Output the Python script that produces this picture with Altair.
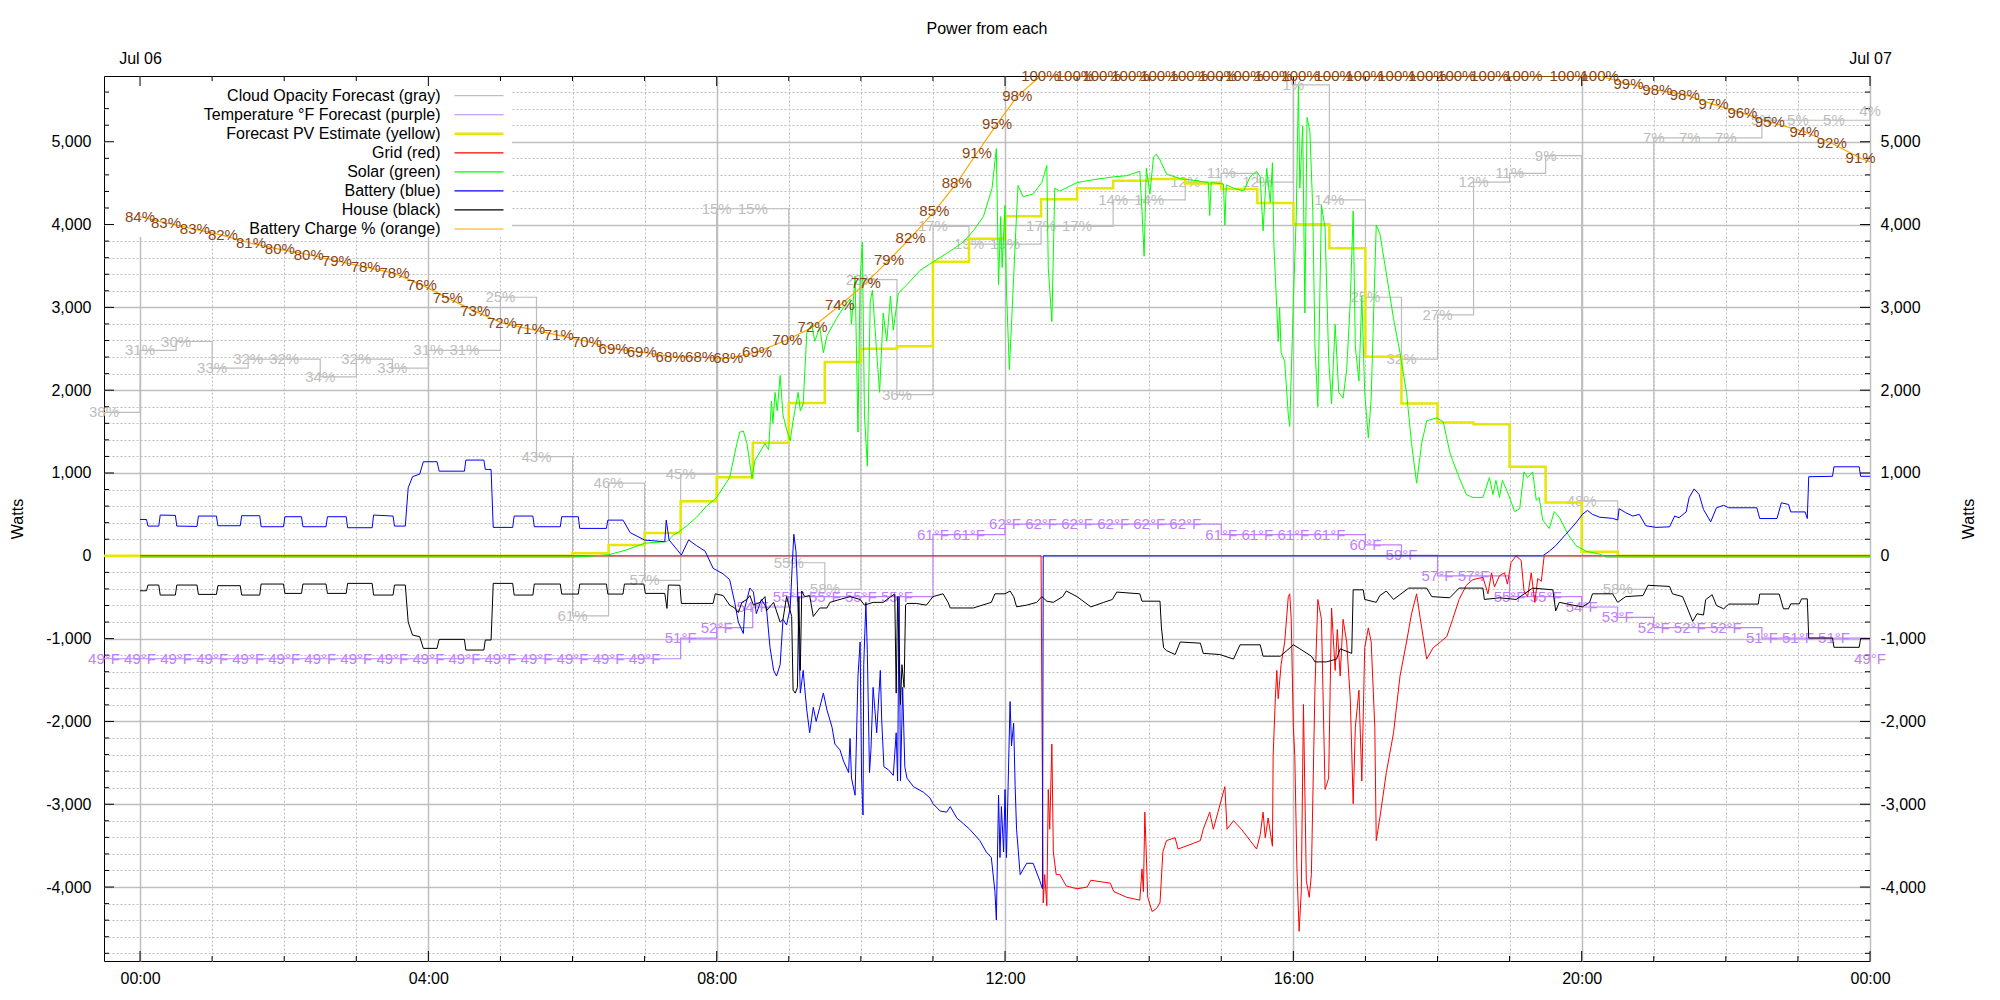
import altair as alt
import pandas as pd

FONT = "Liberation Sans"
PLOT_W, PLOT_H = 1766, 885
X_DOMAIN = [-0.5, 24.0]
WATT_DOMAIN = [-4893, 5794]
TEMP_DOMAIN = [19.8, 105.3]

GRAY = "#bdbdbd"
PURPLE = "#c080ff"
YELLOW = "#e6e600"
RED = "#ff0000"
GREEN = "#00ff00"
BLUE = "#0000ff"
BLACK = "#000000"
ORANGE = "#ffa500"
BROWN = "#8b4513"
GRIDC = "#bebebe"

# ---------------- data (hours from 00:00 Jul 06) ----------------
forecast_hours = [h / 2 for h in range(-1, 49)]  # 23:30 .. 24:00, every 30 min

cloud_pct = [38, 31, 30, 33, 32, 32, 34, 32, 33, 31, 31, 25, 43, 61, 46, 57, 45, 15, 15, 55,
             58, 23, 36, 17, 19, 19, 17, 17, 14, 14, 12, 11, 12, 1, 14, 25, 32, 27, 12, 11,
             9, 48, 58, 7, 7, 7, 5, 5, 5, 4]

temp_f = [49, 49, 49, 49, 49, 49, 49, 49, 49, 49, 49, 49, 49, 49, 49, 49,
          51, 52, 54, 55, 55, 55, 55, 61, 61, 62, 62, 62, 62, 62, 62, 61, 61, 61, 61,
          60, 59, 57, 57, 55, 55, 54, 53, 52, 52, 52, 51, 51, 51, 49]

pv_forecast = [0, 0, 0, 0, 0, 0, 0, 0, 0, 0, 0, 0, 0, 30, 130, 275, 660, 950, 1365, 1845,
               2340, 2500, 2532, 3550, 3830, 4100, 4305, 4440, 4530, 4550, 4495, 4430, 4260, 4005, 3715,
               2405, 1840, 1610, 1590, 1075, 645, 50, 0, 0, 0, 0, 0, 0, 0, 0]

grid_power = [
    (0.00, 0), (12.50, 0), (12.51, -1589), (12.53, -4192), (12.55, -3850), (12.58, -4226), (12.60, -2822),
    (12.62, -3302), (12.65, -2274), (12.67, -3576), (12.71, -3850), (12.76, -3850), (12.85, -3987),
    (13.00, -4021), (13.14, -4000), (13.19, -3918), (13.46, -3953), (13.51, -4055), (13.69, -4124),
    (13.87, -4158), (13.90, -3781), (13.92, -4055), (13.94, -3096), (13.98, -4124), (14.04, -4295),
    (14.10, -4260), (14.15, -4192), (14.19, -3576), (14.24, -3439), (14.36, -3404), (14.40, -3541),
    (14.61, -3473), (14.71, -3439), (14.75, -3302), (14.84, -3096), (14.89, -3302), (15.05, -2788),
    (15.08, -3302), (15.17, -3199), (15.28, -3302), (15.40, -3439), (15.49, -3541), (15.54, -3370),
    (15.58, -3096), (15.61, -3404), (15.65, -3165), (15.71, -3507), (15.72, -2411), (15.75, -1726),
    (15.77, -1384), (15.79, -1726), (15.83, -1315), (15.88, -1041), (15.93, -493), (15.95, -459),
    (15.97, -754), (16.00, -2069), (16.02, -2411), (16.05, -3781), (16.08, -4535), (16.11, -4055),
    (16.14, -1795), (16.18, -3918), (16.22, -4124), (16.25, -3850), (16.30, -1589), (16.34, -527),
    (16.39, -767), (16.44, -2822), (16.49, -2685), (16.53, -630), (16.58, -1384), (16.61, -890),
    (16.65, -1452), (16.69, -767), (16.74, -1041), (16.79, -1726), (16.83, -2993), (16.86, -2069),
    (16.91, -1623), (16.95, -2719), (16.99, -1110), (17.04, -870), (17.08, -1041), (17.13, -2069),
    (17.15, -3439), (17.20, -3165), (17.29, -2617), (17.39, -2137), (17.48, -1452), (17.57, -1041),
    (17.64, -699), (17.71, -459), (17.76, -754), (17.85, -1247), (17.94, -1110), (18.04, -1041),
    (18.13, -973), (18.21, -767), (18.30, -527), (18.40, -356), (18.49, -288), (18.63, -260),
    (18.70, -459), (18.75, -205), (18.79, -377), (18.86, -240), (18.93, -205), (18.97, -342),
    (19.02, -82), (19.09, 0), (19.16, -55), (19.20, -425), (19.25, -493), (19.30, -205), (19.35, -562),
    (19.39, -274), (19.44, -308), (19.48, 0), (24.00, 0)]

solar_power = [
    (0.00, -15), (6.00, -15), (6.30, 0), (6.50, 12), (6.75, 72), (7.00, 152), (7.31, 172), (7.40, 250),
    (7.49, 300), (7.60, 373), (7.72, 466), (7.86, 600), (8.00, 705), (8.18, 945), (8.28, 1356),
    (8.32, 1493), (8.37, 1507), (8.42, 1356), (8.49, 932), (8.53, 1150), (8.60, 1253), (8.67, 1356),
    (8.72, 1280), (8.76, 1870), (8.78, 1600), (8.81, 1973), (8.84, 1750), (8.88, 2178), (8.92, 1699),
    (8.97, 1527), (9.02, 1390), (9.06, 1630), (9.13, 1973), (9.16, 1750), (9.20, 1836), (9.25, 2692),
    (9.32, 2795), (9.36, 2589), (9.43, 2760), (9.48, 2452), (9.53, 2658), (9.66, 2863), (9.76, 3000),
    (9.85, 3103), (9.87, 2795), (9.92, 3377), (9.96, 1493), (9.99, 3343), (10.02, 3788), (10.05, 1699),
    (10.09, 1082), (10.13, 3069), (10.16, 3206), (10.22, 2452), (10.26, 1973), (10.31, 2932),
    (10.36, 2589), (10.41, 3137), (10.45, 2726), (10.52, 3172), (10.64, 3274), (10.82, 3446),
    (11.00, 3548), (11.19, 3651), (11.42, 3788), (11.56, 3925), (11.70, 4096), (11.82, 4439),
    (11.88, 4918), (11.91, 3274), (11.94, 4096), (11.96, 3480), (12.00, 4233), (12.02, 3206),
    (12.06, 2247), (12.09, 2795), (12.14, 3754), (12.18, 4473), (12.25, 4336), (12.39, 4370),
    (12.51, 4507), (12.58, 4713), (12.60, 3480), (12.65, 2829), (12.69, 4439), (12.76, 4405),
    (13.00, 4507), (13.23, 4542), (13.50, 4576), (13.69, 4590), (13.87, 4644), (13.90, 4165),
    (13.93, 3617), (13.96, 4679), (14.01, 4370), (14.06, 4816), (14.10, 4850), (14.15, 4781),
    (14.24, 4610), (14.43, 4555), (14.61, 4535), (14.82, 4507), (14.84, 4110), (14.86, 4507),
    (15.03, 4490), (15.05, 3994), (15.07, 4480), (15.17, 4439), (15.31, 4405), (15.40, 4576),
    (15.49, 4644), (15.54, 4576), (15.58, 3925), (15.63, 4679), (15.68, 4268), (15.71, 4747),
    (15.73, 3754), (15.77, 3000), (15.79, 2589), (15.81, 3000), (15.83, 2452), (15.88, 2350),
    (15.93, 1699), (15.95, 1562), (16.00, 3069), (16.04, 4096), (16.07, 5672), (16.09, 4439),
    (16.13, 5192), (16.16, 2932), (16.19, 5295), (16.23, 5124), (16.27, 4165), (16.30, 2521),
    (16.34, 1802), (16.39, 4233), (16.44, 3959), (16.49, 2384), (16.53, 1836), (16.58, 2795),
    (16.63, 1973), (16.69, 1904), (16.74, 2247), (16.79, 3069), (16.83, 4165), (16.86, 2521),
    (16.91, 2110), (16.95, 3137), (16.99, 1973), (17.04, 1425), (17.08, 1904), (17.13, 3411),
    (17.15, 3994), (17.20, 3891), (17.29, 3411), (17.39, 2863), (17.48, 2452), (17.57, 1973),
    (17.64, 1356), (17.71, 877), (17.78, 1356), (17.85, 1630), (17.99, 1665), (18.08, 1617),
    (18.17, 1253), (18.21, 1151), (18.30, 945), (18.40, 740), (18.49, 705), (18.63, 705), (18.72, 945),
    (18.77, 740), (18.81, 911), (18.86, 705), (18.90, 911), (18.97, 774), (19.07, 534), (19.14, 568),
    (19.20, 1014), (19.25, 945), (19.32, 1014), (19.37, 671), (19.41, 705), (19.46, 432), (19.55, 329),
    (19.62, 534), (19.69, 466), (19.81, 260), (19.92, 123), (20.06, 55), (20.25, 20), (20.34, -15),
    (24.00, -15)]

battery_power = [
    (0.00, 439), (0.09, 439), (0.11, 359), (0.26, 359), (0.28, 492), (0.49, 488), (0.51, 359), (0.79, 355),
    (0.81, 480), (1.06, 480), (1.08, 363), (1.39, 363), (1.41, 484), (1.66, 484), (1.68, 351), (1.99, 351),
    (2.01, 472), (2.24, 472), (2.26, 351), (2.58, 351), (2.60, 472), (2.86, 472), (2.88, 339), (3.22, 339),
    (3.24, 492), (3.51, 480), (3.53, 359), (3.68, 359), (3.72, 820), (3.78, 955), (3.88, 987), (3.93, 1136),
    (4.12, 1136), (4.15, 1022), (4.50, 1022), (4.52, 1156), (4.77, 1156), (4.79, 1043), (4.87, 1043),
    (4.90, 343), (5.17, 343), (5.19, 480), (5.45, 480), (5.47, 351), (5.83, 351), (5.85, 472), (6.08, 472),
    (6.10, 331), (6.47, 331), (6.49, 431), (6.70, 431), (6.80, 280), (7.00, 190), (7.28, 170), (7.30, 431),
    (7.34, 190), (7.45, 75), (7.51, 9), (7.61, 192), (7.72, 123), (7.84, 55), (7.95, -150), (8.09, -219),
    (8.18, -288), (8.25, -562), (8.30, -801), (8.37, -938), (8.39, -630), (8.46, -390), (8.51, -438),
    (8.55, -699), (8.62, -527), (8.69, -630), (8.74, -1110), (8.79, -1384), (8.83, -1452), (8.88, -1315),
    (8.90, -1041), (8.92, -767), (8.97, -836), (9.02, -630), (9.05, -82), (9.07, 260), (9.10, 55),
    (9.12, -356), (9.14, -1041), (9.16, -1658), (9.20, -1384), (9.22, -1589), (9.25, -1863), (9.29, -2137),
    (9.34, -1829), (9.38, -2000), (9.43, -1829), (9.48, -1658), (9.53, -1863), (9.60, -2069), (9.64, -2274),
    (9.71, -2343), (9.76, -2480), (9.83, -2617), (9.85, -2206), (9.87, -2685), (9.92, -2891), (9.96, -1452),
    (9.99, -1041), (10.01, -2685), (10.03, -3130), (10.04, -1315), (10.07, -562), (10.09, -1178),
    (10.12, -2617), (10.14, -2343), (10.17, -1589), (10.22, -2137), (10.27, -1384), (10.29, -2000),
    (10.32, -2548), (10.38, -2582), (10.45, -2651), (10.49, -2137), (10.51, -2719), (10.53, -493),
    (10.55, -2719), (10.58, -1589), (10.61, -2548), (10.64, -2685), (10.73, -2788), (10.87, -2856),
    (10.96, -2925), (11.00, -2993), (11.10, -3082), (11.19, -3096), (11.24, -3028), (11.33, -3165),
    (11.42, -3233), (11.51, -3302), (11.65, -3439), (11.74, -3576), (11.81, -3644), (11.86, -4055),
    (11.88, -4398), (11.91, -2891), (11.93, -3644), (11.95, -3028), (11.98, -3576), (12.00, -2822),
    (12.02, -3644), (12.07, -1760), (12.09, -2295), (12.12, -2021), (12.14, -2774), (12.16, -3302),
    (12.21, -3850), (12.30, -3713), (12.39, -3713), (12.48, -3918), (12.52, -4021), (12.53, 0),
    (19.46, 0), (19.55, 55), (19.64, 123), (19.78, 260), (19.92, 397), (20.01, 500), (20.08, 548),
    (20.15, 500), (20.25, 466), (20.43, 452), (20.50, 432), (20.52, 569), (20.61, 521), (20.71, 480),
    (20.80, 500), (20.89, 363), (21.03, 343), (21.22, 350), (21.29, 480), (21.35, 460), (21.45, 530),
    (21.49, 700), (21.56, 808), (21.63, 740), (21.69, 560), (21.79, 410), (21.87, 580), (21.97, 610),
    (22.04, 580), (22.43, 580), (22.47, 450), (22.71, 450), (22.77, 640), (22.87, 620), (22.90, 530),
    (23.10, 530), (23.13, 450), (23.15, 955), (23.48, 960), (23.50, 1075), (23.85, 1075), (23.87, 960),
    (24.00, 960)]

house_power = [
    (0.00, -422), (0.09, -422), (0.11, -353), (0.26, -353), (0.28, -474), (0.49, -474), (0.51, -353),
    (0.79, -353), (0.81, -466), (1.06, -466), (1.08, -361), (1.39, -361), (1.41, -474), (1.66, -474),
    (1.68, -341), (1.99, -341), (2.01, -454), (2.24, -454), (2.26, -341), (2.58, -341), (2.60, -454),
    (2.86, -454), (2.88, -333), (3.22, -333), (3.24, -474), (3.51, -474), (3.53, -353), (3.68, -353),
    (3.72, -800), (3.78, -957), (3.88, -977), (3.93, -1118), (4.12, -1118), (4.15, -1009), (4.50, -1009),
    (4.52, -1138), (4.77, -1138), (4.79, -1017), (4.87, -1017), (4.90, -333), (5.17, -333), (5.19, -474),
    (5.45, -474), (5.47, -341), (5.83, -341), (5.85, -462), (6.08, -462), (6.10, -341), (6.47, -341),
    (6.49, -462), (6.70, -462), (6.72, -341), (6.99, -341), (7.01, -454), (7.28, -454), (7.31, -635),
    (7.33, -353), (7.49, -356), (7.51, -575), (7.95, -575), (7.98, -459), (8.09, -480), (8.18, -596),
    (8.25, -630), (8.30, -685), (8.35, -562), (8.42, -527), (8.46, -480), (8.51, -596), (8.60, -562),
    (8.67, -493), (8.69, -664), (8.79, -562), (8.88, -801), (8.92, -767), (8.97, -493), (9.04, -733),
    (9.06, -1623), (9.09, -1658), (9.12, -1589), (9.14, -493), (9.16, -1384), (9.18, -425), (9.22, -493),
    (9.29, -480), (9.34, -733), (9.43, -630), (9.53, -630), (9.57, -562), (9.71, -527), (9.85, -493),
    (9.99, -527), (10.05, -596), (10.17, -562), (10.31, -562), (10.47, -459), (10.49, -1658),
    (10.51, -493), (10.55, -1795), (10.57, -1315), (10.60, -1589), (10.62, -596), (10.64, -575),
    (10.77, -575), (10.91, -596), (11.00, -493), (11.14, -459), (11.21, -562), (11.24, -630),
    (11.42, -630), (11.56, -630), (11.81, -562), (11.86, -459), (12.00, -459), (12.07, -425),
    (12.12, -493), (12.16, -616), (12.30, -596), (12.44, -562), (12.51, -493), (12.58, -548),
    (12.67, -562), (12.80, -493), (12.85, -425), (13.00, -493), (13.19, -617), (13.37, -562),
    (13.49, -527), (13.55, -438), (13.87, -459), (13.90, -548), (14.15, -548), (14.17, -870),
    (14.20, -1110), (14.24, -1144), (14.36, -1192), (14.43, -1041), (14.71, -1055), (14.75, -1178),
    (14.98, -1192), (15.17, -1247), (15.26, -1075), (15.54, -1075), (15.58, -1212), (15.82, -1212),
    (15.91, -1144), (16.00, -1075), (16.09, -1123), (16.25, -1212), (16.30, -1281), (16.46, -1281),
    (16.60, -1247), (16.65, -1123), (16.81, -1178), (16.83, -411), (16.97, -411), (16.99, -527),
    (17.15, -562), (17.20, -480), (17.29, -425), (17.39, -527), (17.60, -390), (17.85, -390),
    (17.92, -493), (18.17, -507), (18.30, -390), (18.63, -390), (18.65, -527), (18.86, -507),
    (19.09, -527), (19.32, -390), (19.60, -411), (19.64, -664), (19.69, -562), (19.88, -596),
    (20.01, -616), (20.11, -562), (20.15, -459), (20.43, -459), (20.50, -562), (20.61, -493),
    (20.85, -480), (20.92, -356), (21.22, -370), (21.26, -459), (21.40, -493), (21.45, -596),
    (21.54, -792), (21.60, -700), (21.69, -715), (21.72, -530), (21.81, -470), (21.87, -600),
    (21.97, -640), (22.04, -583), (22.45, -583), (22.47, -462), (22.74, -462), (22.80, -640),
    (22.87, -640), (22.90, -580), (23.02, -580), (23.05, -520), (23.13, -520), (23.15, -993),
    (23.48, -993), (23.50, -1105), (23.85, -1105), (23.87, -1000), (24.00, -1000)]

charge_hours = [0.00, 0.36, 0.76, 1.15, 1.54, 1.94, 2.34, 2.73, 3.13, 3.53, 3.91, 4.27, 4.65, 5.02,
                5.41, 5.81, 6.20, 6.57, 6.96, 7.36, 7.77, 8.16, 8.56, 8.98, 9.33, 9.71, 10.07, 10.39,
                10.69, 11.02, 11.33, 11.61, 11.89, 12.17, 12.49, 12.97, 13.34, 13.74, 14.14, 14.55,
                14.95, 15.32, 15.72, 16.10, 16.56, 16.99, 17.43, 17.86, 18.26, 18.72, 19.19, 19.82,
                20.25, 20.65, 21.05, 21.43, 21.83, 22.23, 22.61, 23.09, 23.47, 23.87]
charge_pct = [84.1, 83.4, 82.7, 82.0, 81.1, 80.4, 79.8, 79.1, 78.4, 77.7, 76.4, 74.9, 73.4, 72.1,
              71.4, 70.7, 70.0, 69.2, 68.8, 68.3, 68.2, 68.1, 68.8, 70.2, 71.6, 74.1, 76.6, 79.2,
              81.7, 84.7, 87.9, 91.3, 94.6, 97.7, 100, 100, 100, 100, 100, 100,
              100, 100, 100, 100, 100, 100, 100, 100, 100, 100, 100, 100,
              100, 99.1, 98.4, 97.9, 96.8, 95.8, 94.8, 93.7, 92.4, 90.7]
charge_tail = [(24.0, 90.3)]

legend_labels = ["Cloud Opacity Forecast (gray)", "Temperature \u00b0F Forecast (purple)",
                 "Forecast PV Estimate (yellow)", "Grid (red)", "Solar (green)", "Battery (blue)",
                 "House (black)", "Battery Charge % (orange)"]
legend_colors = [GRAY, PURPLE, YELLOW, RED, GREEN, BLUE, BLACK, ORANGE]
legend_widths = [1.2, 1.2, 2.5, 1.2, 1.2, 1.2, 1.2, 1.2]

watt_ticks = list(range(-4800, 5601, 200))
watt_labels = list(range(-4000, 5001, 1000))
hour_ticks = list(range(0, 25))
hour_labels = list(range(0, 25, 4))

# ---------------- helpers ----------------
xs = alt.Scale(domain=X_DOMAIN, nice=False, zero=False)
ws = alt.Scale(domain=WATT_DOMAIN, nice=False, zero=False)


def xenc(axis=None):
    return alt.X("t:Q", scale=xs, axis=axis)


def wenc(axis=None):
    return alt.Y("w:Q", scale=ws, axis=axis)


def cond(test, a, b):
    return {"condition": {"test": test, "value": a}, "value": b}


def pairs(p):
    return pd.DataFrame(p, columns=["t", "w"])


WATT_LABEL_EXPR = "(datum.value < 0 ? '-' : '') + format(abs(datum.value), ',')"
lab = dict(labelFont=FONT, labelFontSize=16, labelColor="black", labelFlush=False,
           grid=False, ticks=False, domain=False)

pv_df = pd.DataFrame({"t": forecast_hours, "w": pv_forecast})

# ---------------- axes (each on an invisible carrier layer) ----------------
x_grid_axis = alt.Axis(values=hour_ticks, orient="bottom", grid=True, labels=False, ticks=False,
                       domain=False, title=None, gridColor=GRIDC,
                       gridDash=cond("datum.value % 4 === 0", [], [2, 2]),
                       gridWidth=cond("datum.value % 4 === 0", 1.5, 1))
y_grid_axis = alt.Axis(values=watt_ticks, orient="left", grid=True, labels=False, ticks=False,
                       domain=False, title=None, gridColor=GRIDC,
                       gridDash=cond("datum.value % 1000 === 0", [], [2, 2]),
                       gridWidth=cond("datum.value % 1000 === 0", 1.5, 1))
axes_grid = alt.Chart(pv_df).mark_point(opacity=0).encode(x=xenc(x_grid_axis), y=wenc(y_grid_axis))

bottom_axis = alt.Axis(values=hour_labels, orient="bottom", title=None, labelPadding=9,
                       labelExpr="datum.value == 24 ? '00:00' : (datum.value < 10 ? '0' : '') + datum.value + ':00'",
                       **lab)
left_axis = alt.Axis(values=watt_labels, orient="left", labelPadding=13, labelExpr=WATT_LABEL_EXPR,
                     title="Watts", titleFont=FONT, titleFontSize=16, titleFontWeight="normal",
                     titleColor="black", titleAngle=270, titleX=-87, titleY=PLOT_H / 2,
                     titleAlign="center", titleBaseline="middle", **lab)
axes_main = alt.Chart(pv_df).mark_point(opacity=0).encode(x=xenc(bottom_axis), y=wenc(left_axis))

top_axis = alt.Axis(values=[0, 24], orient="top", title=None, labelPadding=10,
                    labelExpr="datum.value == 0 ? 'Jul 06' : 'Jul 07'", **lab)
right_axis = alt.Axis(values=watt_labels, orient="right", labelPadding=10, labelExpr=WATT_LABEL_EXPR,
                      title="Watts", titleFont=FONT, titleFontSize=16, titleFontWeight="normal",
                      titleColor="black", titleAngle=270, titleX=98, titleY=PLOT_H / 2,
                      titleAlign="center", titleBaseline="middle", **lab)
axes_mirror = alt.Chart(pv_df).mark_point(opacity=0).encode(x=xenc(top_axis), y=wenc(right_axis))

# ---------------- inward ticks on the frame ----------------
hb = alt.Chart(pd.DataFrame({"t": hour_ticks}))
MAJ_X = "datum.t % 4 === 0"
MIN_X = "datum.t % 4 !== 0"
x_ticks_layer = alt.layer(
    hb.transform_filter(MAJ_X).mark_rule(color=BLACK).encode(
        x=xenc(), y=alt.value(PLOT_H), y2=alt.value(PLOT_H - 10)),
    hb.transform_filter(MAJ_X).mark_rule(color=BLACK).encode(
        x=xenc(), y=alt.value(0), y2=alt.value(10)),
    hb.transform_filter(MIN_X).mark_rule(color=BLACK).encode(
        x=xenc(), y=alt.value(PLOT_H), y2=alt.value(PLOT_H - 5)),
    hb.transform_filter(MIN_X).mark_rule(color=BLACK).encode(
        x=xenc(), y=alt.value(0), y2=alt.value(5)),
)
yb = alt.Chart(pd.DataFrame({"w": watt_ticks}))
MAJ_Y = "datum.w % 1000 === 0"
MIN_Y = "datum.w % 1000 !== 0"
y_ticks_layer = alt.layer(
    yb.transform_filter(MAJ_Y).mark_rule(color=BLACK).encode(
        y=wenc(), x=alt.value(0), x2=alt.value(10)),
    yb.transform_filter(MAJ_Y).mark_rule(color=BLACK).encode(
        y=wenc(), x=alt.value(PLOT_W - 10), x2=alt.value(PLOT_W)),
    yb.transform_filter(MIN_Y).mark_rule(color=BLACK).encode(
        y=wenc(), x=alt.value(0), x2=alt.value(5)),
    yb.transform_filter(MIN_Y).mark_rule(color=BLACK).encode(
        y=wenc(), x=alt.value(PLOT_W - 5), x2=alt.value(PLOT_W)),
)

# ---------------- legend background ----------------
legend_box = alt.Chart(pd.DataFrame({"k": [0]})).mark_rect(fill="white").encode(
    x=alt.value(1), x2=alt.value(408), y=alt.value(1), y2=alt.value(161))

# ---------------- cloud opacity (gray) ----------------
cloud_df = pd.DataFrame({"t": forecast_hours, "pct": cloud_pct})
cy = alt.Y("pct:Q", scale=alt.Scale(domain=[0, 100], reverse=True, nice=False, zero=False), axis=None)
cloud_layer = alt.layer(
    alt.Chart(cloud_df).mark_line(interpolate="step-after", color=GRAY, strokeWidth=1.2, clip=True)
    .encode(x=xenc(), y=cy),
    alt.Chart(cloud_df).transform_calculate(label="datum.pct + '%'")
    .mark_text(color=GRAY, font=FONT, fontSize=15, align="center", baseline="middle")
    .encode(x=xenc(), y=cy, text="label:N"),
)

# ---------------- temperature (purple) ----------------
temp_df = pd.DataFrame({"t": forecast_hours, "f": temp_f})
ty = alt.Y("f:Q", scale=alt.Scale(domain=TEMP_DOMAIN, nice=False, zero=False), axis=None)
temp_layer = alt.layer(
    alt.Chart(temp_df).mark_line(interpolate="step-after", color=PURPLE, strokeWidth=1.2, clip=True)
    .encode(x=xenc(), y=ty),
    alt.Chart(temp_df).transform_calculate(label="datum.f + '\u00b0F'")
    .mark_text(color=PURPLE, font=FONT, fontSize=15, align="center", baseline="middle")
    .encode(x=xenc(), y=ty, text="label:N"),
)

# ---------------- power series (watts) ----------------
watts_layer = alt.layer(
    alt.Chart(pv_df).mark_line(interpolate="step-after", color=YELLOW, strokeWidth=2.5, clip=True)
    .encode(x=xenc(), y=wenc()),
    alt.Chart(pairs(grid_power)).mark_line(color=RED, strokeWidth=1, clip=True).encode(x=xenc(), y=wenc()),
    alt.Chart(pairs(solar_power)).mark_line(color=GREEN, strokeWidth=1, clip=True).encode(x=xenc(), y=wenc()),
    alt.Chart(pairs(battery_power)).mark_line(color=BLUE, strokeWidth=1, clip=True).encode(x=xenc(), y=wenc()),
    alt.Chart(pairs(house_power)).mark_line(color=BLACK, strokeWidth=1, clip=True).encode(x=xenc(), y=wenc()),
)

# ---------------- battery charge (orange) ----------------
charge_df = pd.DataFrame({"t": charge_hours, "pct": charge_pct})
charge_line_df = pd.concat([charge_df, pd.DataFrame(charge_tail, columns=["t", "pct"])], ignore_index=True)
py = alt.Y("pct:Q", scale=alt.Scale(domain=[0, 100], nice=False, zero=False), axis=None)
charge_layer = alt.layer(
    alt.Chart(charge_line_df).mark_line(color=ORANGE, strokeWidth=1.2, clip=True).encode(x=xenc(), y=py),
    alt.Chart(charge_df).transform_calculate(label="format(datum.pct, '.0f') + '%'")
    .mark_text(color=BROWN, font=FONT, fontSize=15, align="center", baseline="middle")
    .encode(x=xenc(), y=py, text="label:N"),
)

# ---------------- legend entries ----------------
leg_df = pd.DataFrame({"i": list(range(len(legend_labels))), "name": legend_labels,
                       "c": legend_colors, "sw": legend_widths})
ly = alt.Y("i:Q", scale=alt.Scale(domain=[0, 7], range=[19.7, 153]), axis=None)
legend_layer = alt.layer(
    alt.Chart(leg_df).mark_text(align="right", baseline="middle", font=FONT, fontSize=16, color="black")
    .encode(x=alt.value(336.5), y=ly, text="name:N"),
    alt.Chart(leg_df).mark_rule().encode(
        x=alt.value(350.5), x2=alt.value(399.5), y=ly,
        color=alt.Color("c:N", scale=None), strokeWidth=alt.StrokeWidth("sw:Q", scale=None)),
)

chart = alt.layer(
    axes_grid, axes_main, axes_mirror,
    legend_box, x_ticks_layer, y_ticks_layer, cloud_layer, temp_layer, watts_layer,
    charge_layer, legend_layer,
).resolve_scale(
    y="independent"
).resolve_axis(
    x="independent", y="independent"
).properties(
    width=PLOT_W, height=PLOT_H,
    autosize=alt.AutoSizeParams(type="none"),
    padding={"left": 96, "top": 68, "right": 110, "bottom": 25},
    title=alt.TitleParams("Power from each", font=FONT, fontSize=16, fontWeight="normal",
                          color="black", anchor="middle", frame="group", offset=13),
).configure(
    font=FONT
).configure_view(
    stroke="black", strokeWidth=1
)

chart.save("out.html", embed_options={"renderer": "svg", "actions": False})
